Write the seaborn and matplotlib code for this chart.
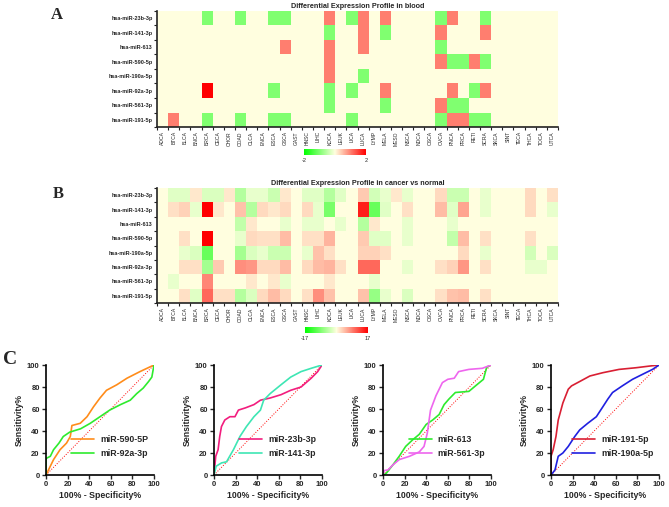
import numpy as np
import pandas as pd
import seaborn as sns
import matplotlib.pyplot as plt
from matplotlib.colors import LinearSegmentedColormap

sns.set_style("ticks")
plt.rcParams['font.family'] = ['Liberation Sans', 'DejaVu Sans']

# --- heatmap data ---
mirnas = ["hsa-miR-23b-3p", "hsa-miR-141-3p", "hsa-miR-613", "hsa-miR-590-5p",
          "hsa-miR-190a-5p", "hsa-miR-92a-3p", "hsa-miR-561-3p", "hsa-miR-191-5p"]
cancers = ["ADCA", "BTCA", "BLCA", "BNCA", "BRCA", "CECA", "CHOR", "COAD", "CLCA",
           "ENCA", "ESCA", "GSCA", "GAST", "HNSC", "LIHC", "KDCA", "LEUK", "LICA",
           "LUCA", "LYMP", "MELA", "MESO", "NSCA", "NDCA", "OSCA", "OVCA", "PNCA",
           "PRCA", "RETI", "SCRA", "SKCA", "SINT", "TECA", "THCA", "TOCA", "UTCA"]

# blood: -1 down, 1 up, 2 strong up
blood_values = [
    [0, 0, 0, 0, -1, 0, 0, -1, 0, 0, -1, -1, 0, 0, 0, 1, 0, -1, 1, 0, 1, 0, 0, 0, 0, -1, 1, 0, 0, -1, 0, 0, 0, 0, 0, 0],
    [0, 0, 0, 0, 0, 0, 0, 0, 0, 0, 0, 0, 0, 0, 0, -1, 0, 0, 1, 0, -1, 0, 0, 0, 0, 1, 0, 0, 0, 1, 0, 0, 0, 0, 0, 0],
    [0, 0, 0, 0, 0, 0, 0, 0, 0, 0, 0, 1, 0, 0, 0, 1, 0, 0, 1, 0, 0, 0, 0, 0, 0, -1, 0, 0, 0, 0, 0, 0, 0, 0, 0, 0],
    [0, 0, 0, 0, 0, 0, 0, 0, 0, 0, 0, 0, 0, 0, 0, 1, 0, 0, 0, 0, 0, 0, 0, 0, 0, 1, -1, -1, 1, -1, 0, 0, 0, 0, 0, 0],
    [0, 0, 0, 0, 0, 0, 0, 0, 0, 0, 0, 0, 0, 0, 0, 1, 0, 0, -1, 0, 0, 0, 0, 0, 0, 0, 0, 0, 0, 0, 0, 0, 0, 0, 0, 0],
    [0, 0, 0, 0, 2, 0, 0, 0, 0, 0, -1, 0, 0, 0, 0, -1, 0, -1, 0, 0, 1, 0, 0, 0, 0, 0, 1, 0, -1, 1, 0, 0, 0, 0, 0, 0],
    [0, 0, 0, 0, 0, 0, 0, 0, 0, 0, 0, 0, 0, 0, 0, -1, 0, 0, 0, 0, -1, 0, 0, 0, 0, 1, -1, -1, 0, 0, 0, 0, 0, 0, 0, 0],
    [0, 1, 0, 0, -1, 0, 0, -1, 0, 0, -1, -1, 0, 0, 0, 0, 0, -1, 0, 0, 0, 0, 0, 0, 0, -1, 1, 1, -1, -1, 0, 0, 0, 0, 0, 0],
]

# cancer vs normal
tissue_values = [
    [0, -2, -2, 1.5, -2.5, -2.5, 1.5, -5, -1.5, -1.5, -3.5, 1.5, 0, -2, -2, -5, -2, 0, 3.5, -3, -1.5, 1.5, -1.5, 0, 0, 2.5, -3.5, -3.5, 0, -1.5, 0, 0, 0, 2.5, 0, 2],
    [0, 2, 3, -1.5, 17, 1.5, 0, 4, -5, 2.5, 1.5, 2.5, 0, 2.5, -1.5, -9, 0, 0, 15, -10, -2, 0, 2, 0, 0, 4.5, -2, 6, 0, -1.5, 0, 0, 0, 2.5, 0, -1.5],
    [0, 0, 0, 0, 0, 0, 0, -4, 1.5, 0, 0, -1.5, 0, -1.5, -1.5, 0, -1.5, 0, -5, 1.5, 0, 0, -1.5, 0, 0, 0, -1.5, 0, 0, 0, 0, 0, 0, 0, 0, 0],
    [0, 0, 2, 0, 17, 0, 0, -1.5, 2.5, 2, 2, 4.5, 0, 2, 2, 5, 0, 0, 3.5, -2, -2, 0, -1.5, 0, 0, 0, -4, 4.5, 0, 2, 0, 0, 0, 2, 0, 0],
    [0, 0, -1.5, -2.5, -10, 0, 0, -6, -2.5, -1.5, -3.5, -3.5, 0, -1.5, 4, 2, 0, 0, 3, 3, 2, 0, 0, 0, 0, 0, 0, 2.5, 0, -1.5, 0, 0, 0, -3, 0, -2.5],
    [0, 0, 2, 2, -6, 3.5, 0, 7.5, 7, 2.5, 2.5, 4.5, 0, 2.5, 4.5, 5, 2, 0, 10, 10, 0, 0, -1.5, 0, 0, 2, 3, 7, 0, 2, 0, 0, 0, -1.5, -1.5, 0],
    [0, -1.5, 0, 0, 8, 0, 0, 0, 1.5, 0, 1.5, -1.5, 0, 0, 0, 1.5, 0, 0, 0, -1.5, 0, 0, 0, 0, 0, 0, 0, 0, 0, 0, 0, 0, 0, 0, 0, 0],
    [0, 0, 2, -2, 10, 2, 2, -5, -2.5, 2.5, 4.5, 2.5, 0, 2, 7.5, 4, 0, 0, 4, -7, -1.5, 0, -2.5, 0, 0, 2, 4, 4.5, 0, 2, 0, 0, 0, 0, 0, 0],
]

blood_range = [-2, 2]
tissue_range = [-17, 17]

# --- ROC data (100% - specificity, sensitivity) ---
fpr_590 = [0, 1, 4, 7, 13, 19, 22.5, 24, 31.7, 38, 44, 50, 56, 65.5, 75, 87, 100]
tpr_590 = [0, 2, 8, 14, 23, 29, 35, 45, 47, 53, 62, 70, 77, 82, 88, 94, 100]
fpr_92a = [0, 0, 4, 7, 12, 16, 22, 32, 41, 50, 59, 69, 78, 84, 90, 95, 98, 100]
tpr_92a = [0, 15, 17, 23, 29, 35, 39, 42, 47, 53, 59, 64, 68, 74, 79, 85, 89, 100]
fpr_23b = [0, 1.6, 3.8, 5.3, 6.9, 10, 14.7, 19.4, 22.6, 29, 37, 43, 52, 62, 71, 80.6, 90, 96, 100]
tpr_23b = [0, 17, 23, 35, 44, 50, 53, 53, 59, 61, 64, 68, 70, 73, 77, 80, 88, 94, 100]
fpr_141 = [0, 2, 7, 11.6, 18, 24, 30, 37, 43, 46, 52, 62, 71, 80.6, 90, 100]
tpr_141 = [0, 8, 11, 12, 23, 35, 44, 53, 59, 68, 74, 82, 89, 94, 97, 100]
fpr_613 = [0, 3, 9, 15, 21, 27.5, 33.6, 40, 46, 52, 56.6, 61, 67, 79.5, 85.6, 93, 96, 100]
tpr_613 = [0, 1.5, 9, 17, 26, 32, 37, 46, 50, 55, 64, 69, 75, 76, 81, 87, 98, 100]
fpr_561 = [0, 1, 4.6, 9, 15, 24.5, 33.6, 38, 41, 44, 49, 55, 60, 66, 70, 79.5, 92, 100]
tpr_561 = [0, 4, 4.6, 9, 14, 17, 21, 26, 38, 59, 72, 84, 87, 88, 94, 96, 97, 100]
fpr_191 = [0, 0, 2, 4.6, 6.7, 11, 16, 19, 26.6, 36, 48, 63, 78.6, 91, 100]
tpr_191 = [0, 17, 23, 35, 50, 65.5, 78, 81, 85, 90, 93, 96, 97.5, 99, 100]
fpr_190a = [0, 3.7, 6.7, 11, 16, 22, 26.6, 34, 42, 48, 52.6, 57, 66, 75.5, 84.7, 94, 100]
tpr_190a = [0, 4.6, 17, 20, 26, 35, 41, 47, 53, 62, 69, 75, 81, 87, 91.5, 96, 100]
chance = [0, 100]

roc_panels = [
    [("miR-590-5P", fpr_590, tpr_590, "#FF8C1A"), ("miR-92a-3p", fpr_92a, tpr_92a, "#2EEB2E")],
    [("miR-23b-3p", fpr_23b, tpr_23b, "#F21D7E"), ("miR-141-3p", fpr_141, tpr_141, "#3EE6B4")],
    [("miR-613", fpr_613, tpr_613, "#2EEB2E"), ("miR-561-3p", fpr_561, tpr_561, "#EE66EE")],
    [("miR-191-5p", fpr_191, tpr_191, "#D91F33"), ("miR-190a-5p", fpr_190a, tpr_190a, "#2020E0")],
]

W, H = 669, 507
fig = plt.figure(figsize=(W / 100, H / 100), dpi=100)


def px_rect(x0, y0, x1, y1):
    return [x0 / W, 1 - y1 / H, (x1 - x0) / W, (y1 - y0) / H]


cmap = LinearSegmentedColormap.from_list("gyr", ["#00FF00", "#FFFFE0", "#FF0000"])


def draw_heat(rect, cbar_rect, values, vrange, title):
    ax = fig.add_axes(rect)
    cax = fig.add_axes(cbar_rect)
    df = pd.DataFrame(values, index=mirnas, columns=cancers)
    sns.heatmap(df, ax=ax, cmap=cmap, vmin=vrange[0], vmax=vrange[1], cbar_ax=cax,
                cbar_kws={"orientation": "horizontal", "ticks": vrange})
    cb = ax.collections[0].colorbar
    cb.outline.set_visible(False)
    cax.tick_params(length=0, labelsize=4, pad=2)
    cax.set_xticklabels([str(v) for v in vrange])

    nx, ny = len(cancers), len(mirnas)
    ax.set_xticks(np.arange(nx + 1))
    ax.set_xticklabels([])
    ax.set_xticks(np.arange(nx) + 0.5, minor=True)
    ax.set_xticklabels(cancers, minor=True, rotation=90, fontsize=3.6)
    ax.set_yticks(np.arange(ny + 1))
    ax.set_yticklabels([])
    ax.set_yticks(np.arange(ny) + 0.5, minor=True)
    ax.set_yticklabels(mirnas, minor=True, fontsize=4, fontweight="bold")
    ax.tick_params(which="minor", length=0, pad=3)
    ax.tick_params(which="major", length=2.5, width=0.8, color="#222222")
    ax.set_xlabel("")
    ax.set_ylabel("")
    for side in ["left", "bottom"]:
        ax.spines[side].set_visible(True)
        ax.spines[side].set_linewidth(1.2)
        ax.spines[side].set_color("#222222")
    ax.set_title(title, fontsize=5.2, fontweight="bold", pad=2)


draw_heat(px_rect(157, 11, 558, 127), px_rect(304, 149, 366, 155),
          blood_values, blood_range, "Differential Expression Profile in blood")
draw_heat(px_rect(157, 188, 558, 303), px_rect(305, 327, 368, 333),
          tissue_values, tissue_range, "Differential Expression Profile in cancer vs normal")

# --- ROC panels ---
lefts = [46, 214, 383, 551]
for left, curves in zip(lefts, roc_panels):
    ax = fig.add_axes(px_rect(left, 365, left + 108, 475))
    sns.lineplot(x=chance, y=chance, ax=ax, color="red", lw=0.7, linestyle=":")
    for name, fpr, tpr, col in curves:
        sns.lineplot(x=fpr, y=tpr, ax=ax, sort=False, estimator=None, color=col,
                     lw=1.2, label=name)
    ax.set_xlim(0, 100)
    ax.set_ylim(0, 100)
    ax.set_xticks(range(0, 101, 20))
    ax.set_yticks(range(0, 101, 20))
    ax.tick_params(labelsize=5.5, length=3, width=1, pad=1.5)
    for lab in ax.get_xticklabels() + ax.get_yticklabels():
        lab.set_fontweight("bold")
    sns.despine(ax=ax)
    for side in ["left", "bottom"]:
        ax.spines[side].set_linewidth(1.2)
        ax.spines[side].set_color("black")
    ax.set_xlabel("100% - Specificity%", fontsize=6.3, fontweight="bold", labelpad=2)
    ax.set_ylabel("Sensitivity%", fontsize=6.3, fontweight="bold", labelpad=2)
    ax.legend(loc="lower right", bbox_to_anchor=(1.02, 0.08), frameon=False,
              prop={"size": 6.3, "weight": "bold"}, handlelength=2.6,
              labelspacing=0.6, handletextpad=0.7)

serif = ["Liberation Serif", "DejaVu Serif"]
fig.text(51 / W, 1 - 19 / H, "A", fontsize=12, fontweight="bold", family=serif)
fig.text(53 / W, 1 - 198 / H, "B", fontsize=12, fontweight="bold", family=serif)
fig.text(3 / W, 1 - 364 / H, "C", fontsize=14, fontweight="bold", family=serif)

fig.savefig("out.png", dpi=100)
